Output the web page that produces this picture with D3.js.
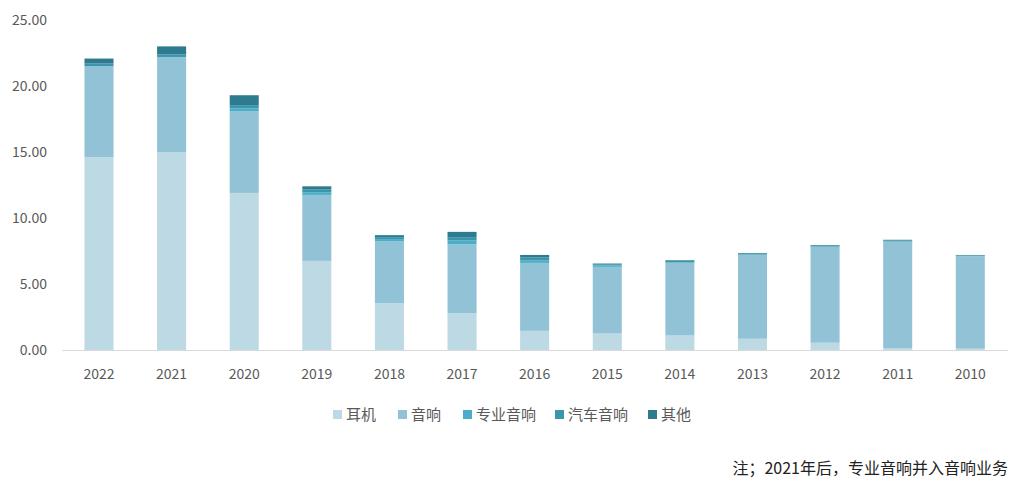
<!DOCTYPE html><html><head><meta charset="utf-8"><script src="https://cdn.jsdelivr.net/npm/d3@7"></script>
<style>body{margin:0;background:#fff}text{font-family:"Noto Sans CJK SC","Liberation Sans",sans-serif}</style></head><body><svg id="c" width="1024" height="489"></svg><script>
const years=["2022","2021","2020","2019","2018","2017","2016","2015","2014","2013","2012","2011","2010"];
const seriesNames=["耳机","音响","专业音响","汽车音响","其他"];
const earphone=[14.6,15.0,11.9,6.75,3.55,2.8,1.45,1.25,1.1,0.85,0.55,0.15,0.1];
const speaker=[6.9,7.2,6.2,5.0,4.7,5.2,5.15,5.05,5.5,6.35,7.25,8.05,7.0];
const pro=[0,0,0.2,0.2,0.15,0.3,0.2,0.1,0.05,0.05,0.05,0.05,0.03];
const car=[0.2,0.2,0.25,0.2,0.15,0.25,0.2,0.1,0.1,0.05,0.05,0.05,0.03];
const other=[0.38,0.6,0.75,0.25,0.15,0.4,0.2,0.05,0.05,0.05,0.05,0.05,0.04];
const yTicks=[0,5,10,15,20,25];
const colors=["#bcd9e4","#92c2d5","#4aaec9","#3a95ad","#2e7a8e"];
const data=years.map((y,i)=>({year:y,"耳机":earphone[i],"音响":speaker[i],"专业音响":pro[i],"汽车音响":car[i],"其他":other[i]}));
const svg=d3.select("#c");
const x=d3.scaleBand().domain(years).range([62.7,1006.6]).paddingInner(0.6).paddingOuter(0.3);
const y=d3.scaleLinear().domain([0,25]).range([350,20]);
const stack=d3.stack().keys(seriesNames)(data);
svg.append("g").selectAll("g").data(stack).join("g").attr("fill",(d,i)=>colors[i])
 .selectAll("rect").data(d=>d).join("rect").attr("x",d=>x(d.data.year)).attr("width",x.bandwidth())
 .attr("y",d=>y(d[1])).attr("height",d=>y(d[0])-y(d[1]));
svg.append("line").attr("x1",62).attr("x2",1008).attr("y1",350.5).attr("y2",350.5).attr("stroke","#d9d9d9");
svg.append("g").selectAll("text").data(yTicks).join("text").attr("x",47).attr("y",d=>y(d)+5).attr("text-anchor","end")
 .attr("font-size",14).attr("fill","#595959").text(d=>d.toFixed(2));
svg.append("g").selectAll("text").data(years).join("text").attr("x",d=>x(d)+x.bandwidth()/2).attr("y",379).attr("text-anchor","middle")
 .attr("font-size",14).attr("fill","#595959").text(d=>d);
const lx=[333,398,463,555,648];
const lg=svg.append("g").selectAll("g").data(seriesNames).join("g").attr("transform",(d,i)=>`translate(${lx[i]},410)`);
lg.append("rect").attr("width",9).attr("height",9).attr("fill",(d,i)=>colors[i]);
lg.append("text").attr("x",13).attr("y",9.5).attr("font-size",15).attr("fill","#595959").text(d=>d);
svg.append("text").attr("x",1008).attr("y",474).attr("text-anchor","end").attr("font-size",16).attr("fill","#222").text("注；2021年后，专业音响并入音响业务");
</script></body></html>
